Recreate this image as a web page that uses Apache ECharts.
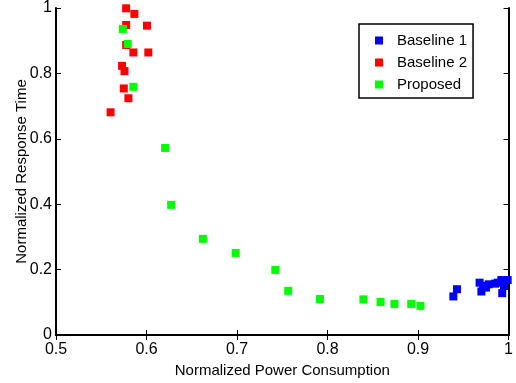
<!DOCTYPE html>
<html><head><meta charset="utf-8">
<script src="https://cdn.jsdelivr.net/npm/echarts@6/dist/echarts.min.js"></script>
<style>html,body{margin:0;padding:0;background:#fff}#c{width:516px;height:383px}</style>
</head><body><div id="c"></div>
<script>
const xTicks = [0.5, 0.6, 0.7, 0.8, 0.9, 1];
const yTicks = [0, 0.2, 0.4, 0.6, 0.8, 1];
const baseline1 = [
  [0.939,0.118],[0.943,0.140],[0.968,0.160],[0.970,0.133],[0.972,0.150],[0.975,0.145],
  [0.978,0.155],[0.985,0.157],[0.988,0.160],[0.992,0.168],[0.993,0.128],[0.995,0.150],[0.999,0.168]
];
const baseline2 = [
  [0.5775,0.999],[0.5866,0.982],[0.5775,0.948],[0.6005,0.946],[0.5775,0.887],[0.5855,0.864],
  [0.602,0.864],[0.573,0.823],[0.5757,0.807],[0.5749,0.754],[0.580,0.724],[0.5603,0.681]
];
const proposed = [
  [0.5738,0.936],[0.5793,0.890],[0.5855,0.759],[0.6206,0.572],[0.6272,0.398],[0.6623,0.294],
  [0.6985,0.251],[0.7423,0.199],[0.7566,0.135],[0.7917,0.110],[0.8396,0.109],[0.8586,0.101],
  [0.8739,0.095],[0.8925,0.095],[0.9027,0.089]
];
const seriesNames = ['Baseline 1','Baseline 2','Proposed'];
const colors = ['#0000ff','#ff0000','#00ff00'];

const font = 'Liberation Sans, Arial, sans-serif';
const axisLine = {show:true, lineStyle:{color:'#000', width:2}};
const axisTick = {show:true, inside:true, length:5, lineStyle:{color:'#000', width:1}};
const chart = echarts.init(document.getElementById('c'));
chart.setOption({
  animation:false,
  grid:{left:56, right:4, top:8, bottom:48},
  legend:{
    orient:'vertical', left:359, top:24, icon:'rect', itemWidth:8, itemHeight:8, itemGap:7,
    padding:[9,6,6,16], borderColor:'#000', borderWidth:1.5, backgroundColor:'#fff',
    textStyle:{fontFamily:font, fontSize:15, color:'#000', padding:[0,0,0,9], lineHeight:15},
    data:seriesNames
  },
  xAxis:[{
    type:'value', min:xTicks[0], max:xTicks[xTicks.length-1], interval:0.1,
    name:'Normalized Power Consumption', nameLocation:'middle', nameGap:26,
    nameTextStyle:{fontFamily:font, fontSize:15, color:'#000'},
    axisLine:axisLine, axisTick:axisTick, splitLine:{show:false},
    axisLabel:{fontFamily:font, fontSize:16, color:'#000', margin:7}
  },{
    type:'value', position:'top', min:xTicks[0], max:xTicks[xTicks.length-1], interval:0.1,
    axisLine:axisLine, axisTick:axisTick, splitLine:{show:false}, axisLabel:{show:false}
  }],
  yAxis:[{
    type:'value', min:yTicks[0], max:yTicks[yTicks.length-1], interval:0.2,
    name:'Normalized Response Time', nameLocation:'middle', nameGap:27, nameMoveOverlap:false,
    nameTextStyle:{fontFamily:font, fontSize:15, color:'#000'},
    axisLine:axisLine, axisTick:axisTick, splitLine:{show:false},
    axisLabel:{fontFamily:font, fontSize:16, color:'#000', margin:4}
  },{
    type:'value', position:'right', min:yTicks[0], max:yTicks[yTicks.length-1], interval:0.2,
    axisLine:axisLine, axisTick:axisTick, splitLine:{show:false}, axisLabel:{show:false}
  }],
  series:[
    {name:seriesNames[0], type:'scatter', symbol:'rect', symbolSize:8, data:baseline1, itemStyle:{color:colors[0], opacity:1}},
    {name:seriesNames[1], type:'scatter', symbol:'rect', symbolSize:8, data:baseline2, itemStyle:{color:colors[1], opacity:1}},
    {name:seriesNames[2], type:'scatter', symbol:'rect', symbolSize:8, data:proposed, itemStyle:{color:colors[2], opacity:1}}
  ]
});
</script></body></html>
